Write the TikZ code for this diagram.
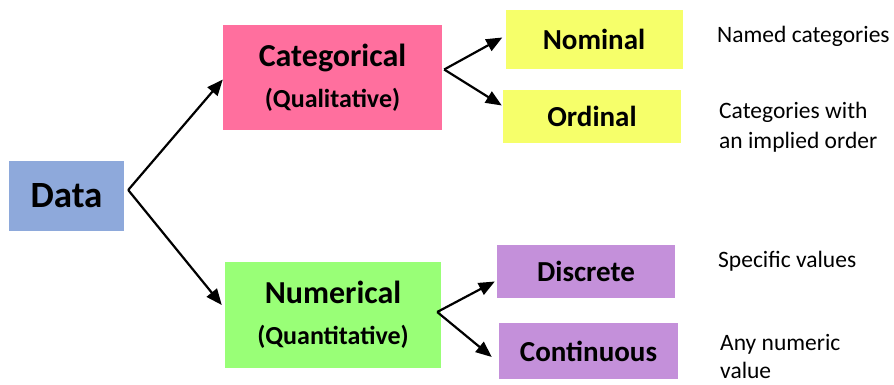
\documentclass[tikz,border=0pt]{standalone}
\usepackage{fontspec}
\setmainfont{Carlito}
\usetikzlibrary{arrows.meta}

\definecolor{dataBlue}{HTML}{8EA9DB}
\definecolor{catPink}{HTML}{FF6F9E}
\definecolor{numGreen}{HTML}{99FF77}
\definecolor{subYellow}{HTML}{F6FF6A}
\definecolor{subPurple}{HTML}{C490DA}

\tikzset{
  box/.style={inner sep=0pt, align=center, font=\bfseries},
  bigbox/.style={box, font=\fontsize{28}{41}\bfseries\selectfont},
  subbox/.style={box, font=\fontsize{29}{34}\bfseries\selectfont},
  note/.style={anchor=west, align=left, inner sep=0pt, font=\fontsize{23.5}{30}\selectfont},
  link/.style={line width=2.2pt, -{Triangle[length=16pt,width=13pt]}}
}

\begin{document}
\begin{tikzpicture}[x=1pt, y=-1pt]
\useasboundingbox (0,0) rectangle (894,385);
% left
\node[box, fill=dataBlue, minimum width=115pt, minimum height=70pt, font=\fontsize{37}{42}\bfseries\selectfont] (data) at (66.5,196) {Data};
% middle column
\node[bigbox, fill=catPink, minimum width=219pt, minimum height=105pt] (cat) at (332.5,77.5) {{\fontsize{32}{41}\selectfont Categorical}\\{\fontsize{26}{41}\selectfont (Qualitative)}};
\node[bigbox, fill=numGreen, minimum width=216pt, minimum height=106pt] (num) at (333,315) {{\fontsize{32}{41}\selectfont Numerical}\\{\fontsize{26}{41}\selectfont (Quantitative)}};
% right column
\node[subbox, fill=subYellow, minimum width=177pt, minimum height=59pt] (nom) at (594,39.5) {Nominal};
\node[subbox, fill=subYellow, minimum width=178pt, minimum height=53pt] (ord) at (592,116.5) {Ordinal};
\node[subbox, fill=subPurple, minimum width=178pt, minimum height=53pt] (disc) at (586,271.5) {Discrete};
\node[subbox, fill=subPurple, minimum width=179pt, minimum height=56pt] (cont) at (588.5,351) {Continuous};
% descriptions
\node[note] (nomtxt) at (717,36) {Named categories};
\node[note] (ordtxt) at (719,127) {Categories with\\an implied order};
\node[note] (disctxt) at (718,261) {Specific values};
\node[note, font=\fontsize{23.5}{28}\selectfont] (conttxt) at (720,356) {Any numeric\\value};
% arrows
\coordinate (dv) at ([xshift=4pt, yshift=6pt]data.east);
\draw[link] (dv) -- ([yshift=-2pt]cat.west);
\draw[link] (dv) -- ([xshift=-3pt, yshift=10pt]num.west);
\coordinate (cv) at ([xshift=2pt, yshift=8pt]cat.east);
\draw[link] (cv) -- ([xshift=-3pt, yshift=2pt]nom.west);
\draw[link] (cv) -- ([xshift=-1pt, yshift=11pt]ord.west);
\coordinate (nv) at ([xshift=-4pt, yshift=3pt]num.east);
\draw[link] (nv) -- ([xshift=-2pt, yshift=-10pt]disc.west);
\draw[link] (nv) -- ([xshift=-7pt, yshift=-6pt]cont.west);
\end{tikzpicture}
\end{document}
